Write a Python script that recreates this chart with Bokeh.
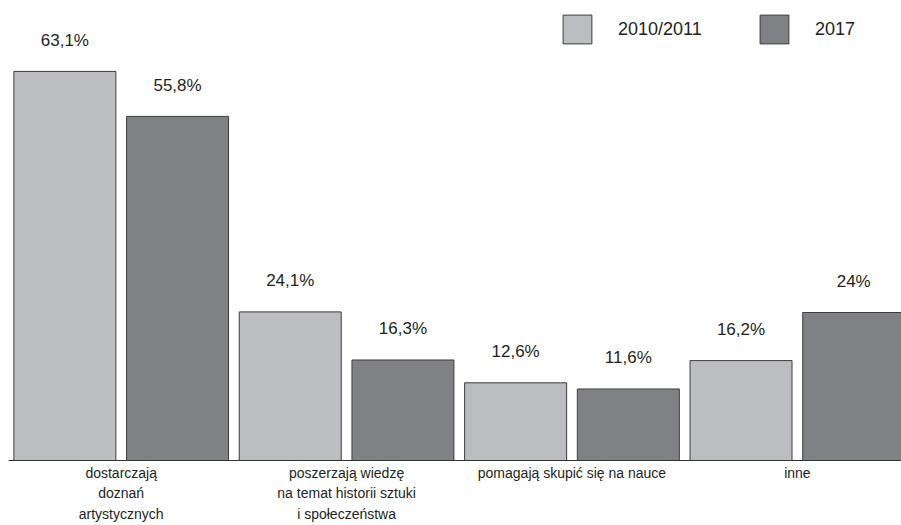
from bokeh.plotting import figure
from bokeh.models import (ColumnDataSource, Range1d, FixedTicker, Legend, LegendItem)
from bokeh.core.properties import value
from bokeh.embed import file_html
from bokeh.resources import INLINE

# ---- data ----
categories = [
    "dostarczają\ndoznań\nartystycznych",
    "poszerzają wiedzę\nna temat historii sztuki\ni społeczeństwa",
    "pomagają skupić się na nauce",
    "inne",
]
series_names = ["2010/2011", "2017"]
values_2010 = [63.1, 24.1, 12.6, 16.2]
values_2017 = [55.8, 16.3, 11.6, 24.0]

LIGHT = "#bcbdc0"
DARK = "#808184"
EDGE = "#3c3c3c"
TXT = "#231f20"
FONT = "Liberation Sans"


def fmt(v):
    return f"{v:g}".replace(".", ",") + "%"


n = len(categories)
x_a = [2 * i for i in range(n)]
x_b = [2 * i + 1 for i in range(n)]
src_a = ColumnDataSource(dict(x=x_a, top=values_2010, lab=[fmt(v) for v in values_2010]))
src_b = ColumnDataSource(dict(x=x_b, top=values_2017, lab=[fmt(v) for v in values_2017]))

p = figure(width=901, height=525, output_backend="svg", toolbar_location=None,
           x_range=Range1d(-0.5, 7.424), y_range=Range1d(0, 74.6),
           y_axis_location=None, min_border=0, min_border_left=8)
p.outline_line_color = None
p.xgrid.visible = False
p.ygrid.visible = False
p.background_fill_color = "white"

ra = p.vbar(x="x", top="top", width=0.905, bottom=0, source=src_a,
            fill_color=LIGHT, line_color=EDGE, line_width=1)
rb = p.vbar(x="x", top="top", width=0.905, bottom=0, source=src_b,
            fill_color=DARK, line_color=EDGE, line_width=1)

for s in (src_a, src_b):
    p.text(x="x", y="top", text="lab", source=s, y_offset=-31,
           text_align="center", text_baseline="middle",
           text_font=value(FONT), text_font_size="17px", text_color=TXT)

# category axis
ax = p.xaxis[0]
centers = [2 * i + 0.5 for i in range(n)]
ax.ticker = FixedTicker(ticks=centers)
ax.major_label_overrides = {c: lab for c, lab in zip(centers, categories)}
ax.major_tick_line_color = None
ax.minor_tick_line_color = None
ax.major_tick_out = 0
ax.minor_tick_out = 0
ax.major_tick_in = 0
ax.minor_tick_in = 0
ax.axis_line_color = "#333333"
ax.axis_line_width = 1
ax.major_label_standoff = 4
ax.major_label_text_font = FONT
ax.major_label_text_font_size = "14px"
ax.major_label_text_color = TXT
ax.major_label_text_line_height = 1.3

legend = Legend(items=[LegendItem(label=series_names[0], renderers=[ra]),
                       LegendItem(label=series_names[1], renderers=[rb])],
                orientation="horizontal", location=(551, 413),
                glyph_width=36, glyph_height=36, label_standoff=23,
                label_width=100, spacing=38, padding=0, margin=0,
                border_line_color=None, background_fill_alpha=0,
                label_text_font=FONT, label_text_font_size="18px",
                label_text_color=TXT)
p.add_layout(legend)

open("out.html", "w").write(file_html(p, INLINE))
